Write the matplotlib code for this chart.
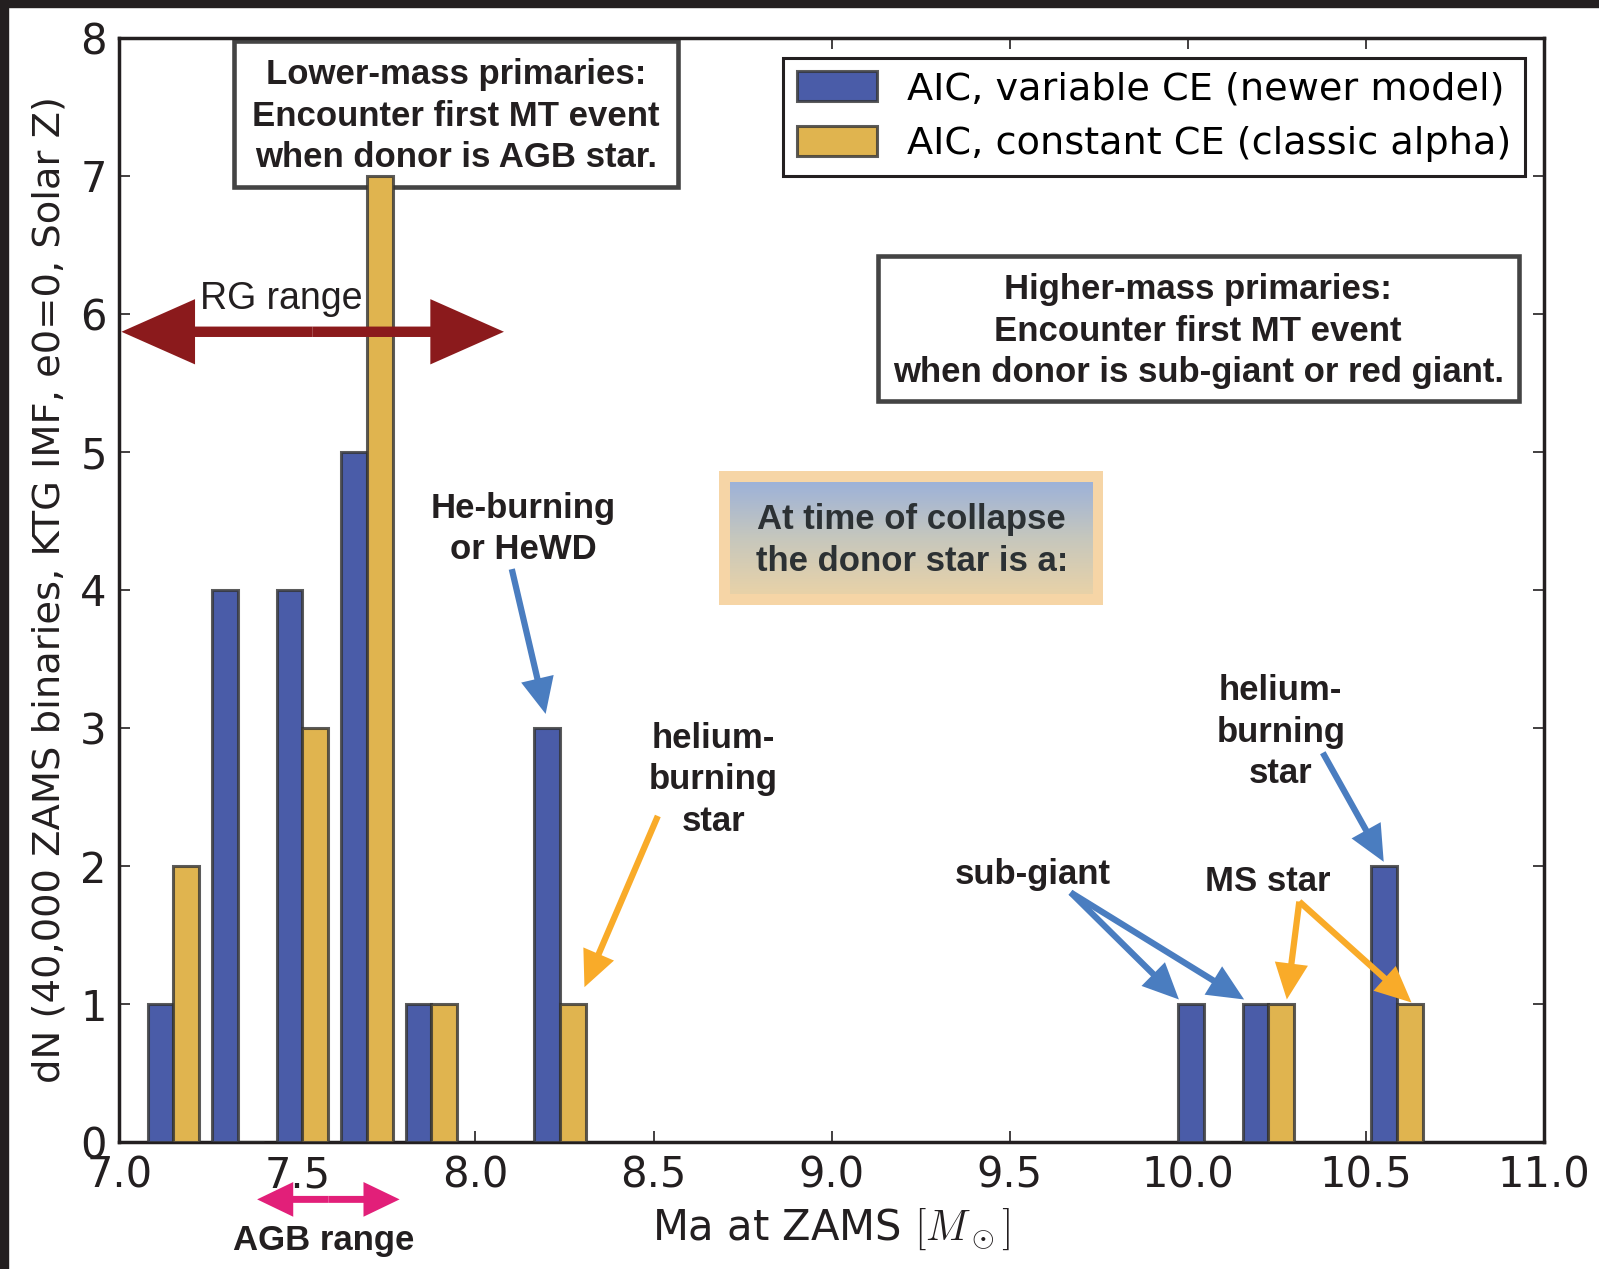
import matplotlib
matplotlib.use("Agg")
import matplotlib.pyplot as plt
import numpy as np
from matplotlib.patches import Rectangle, FancyArrowPatch
from matplotlib.colors import LinearSegmentedColormap

plt.rcParams["mathtext.fontset"] = "cm"

# non-empty mass bins (bin centres, Msun) and counts per bin
bin_centers = [7.152, 7.333, 7.514, 7.695, 7.876, 8.237, 10.045, 10.226, 10.587]
n_variable = [1, 4, 4, 5, 1, 3, 1, 1, 2]
n_constant = [2, 0, 3, 7, 1, 1, 0, 1, 1]
bin_width = 0.1808

labels = ["AIC, variable CE (newer model)", "AIC, constant CE (classic alpha)"]
x_ticks = [7.0, 7.5, 8.0, 8.5, 9.0, 9.5, 10.0, 10.5, 11.0]
y_ticks = [0, 1, 2, 3, 4, 5, 6, 7, 8]

ink = "#231f20"
blue = "#4a5ca8"
gold = "#e0b44f"
arrow_blue = "#4a7dc0"
arrow_orange = "#f9ab29"
sans = ["Liberation Sans", "DejaVu Sans"]
bold = dict(family=sans, weight="bold", color=ink)
LS = 1.33

fig = plt.figure(figsize=(15.99, 12.69), dpi=100)
ax = fig.add_axes([0.0746, 0.0999, 0.891, 0.8704])

x = np.array(bin_centers)
w = 0.4 * bin_width
edge = (0.2, 0.2, 0.2, 0.8)
ax.bar(x - w / 2, n_variable, width=w, color=blue, edgecolor=edge, linewidth=2.2,
       label=labels[0], zorder=3)
ax.bar(x + w / 2, n_constant, width=w, color=gold, edgecolor=edge, linewidth=2.2,
       label=labels[1], zorder=3)

ax.set_xlim(7, 11)
ax.set_ylim(0, 8)
ax.set_xticks(x_ticks)
ax.set_xticklabels([f"{t:.1f}" for t in x_ticks])
ax.set_yticks(y_ticks)
ax.tick_params(direction="in", length=8, width=1.2, top=True, right=True,
               labelsize=30, pad=9, colors=ink)
for s in ax.spines.values():
    s.set_linewidth(2.5)
    s.set_color(ink)

ax.set_xlabel(r"Ma at ZAMS $[M_\odot]$", fontsize=30, color=ink)
ax.set_ylabel("dN (40,000 ZAMS binaries, KTG IMF, e0=0, Solar Z)", fontsize=27.7, color=ink)
ax.xaxis.set_label_coords(0.5, -0.058)
ax.yaxis.set_label_coords(-0.036, 0.5)

leg = ax.legend(loc="upper right", bbox_to_anchor=(0.9866, 0.9817), borderaxespad=0,
                fontsize=27.5, fancybox=False, framealpha=1, edgecolor=ink,
                handlelength=2.1, handleheight=0.8, handletextpad=0.8,
                labelspacing=0.5, borderpad=0.35)
leg.get_frame().set_linewidth(2.2)
leg.set_zorder(6)

# text boxes
ax.add_patch(Rectangle((7.321, 6.920), 8.569 - 7.321, 7.976 - 6.920, facecolor="white",
                       edgecolor="#444444", linewidth=3.3, zorder=2))
ax.text(7.945, 7.43, "Lower-mass primaries:\nEncounter first MT event\nwhen donor is AGB star.",
        ha="center", va="center", fontsize=25, linespacing=LS, zorder=2.5, **bold)
ax.add_patch(Rectangle((9.130, 5.369), 10.931 - 9.130, 6.418 - 5.369, facecolor="white",
                       edgecolor="#444444", linewidth=3.3, zorder=2))
ax.text(10.029, 5.875, "Higher-mass primaries:\nEncounter first MT event\nwhen donor is sub-giant or red giant.",
        ha="center", va="center", fontsize=25, linespacing=LS, zorder=2.5, **bold)

# gradient box
ax.add_patch(Rectangle((8.684, 3.892), 9.763 - 8.684, 4.860 - 3.892, facecolor="#f6d5a6",
                       edgecolor="none", zorder=4))
grad_cmap = LinearSegmentedColormap.from_list("g", ["#e8d2a8", "#c6c7bd", "#9db2d9"])
ax.imshow(np.linspace(0, 1, 256).reshape(-1, 1)[::-1], cmap=grad_cmap, aspect="auto",
          extent=[8.715, 9.734, 3.973, 4.778], zorder=4.5)
ax.text(9.225, 4.36, "At time of collapse\nthe donor star is a:", ha="center", va="center",
        fontsize=25, linespacing=LS, zorder=5, family=sans, weight="bold", color="#2c3134")
ax.set_xlim(7, 11)
ax.set_ylim(0, 8)


def arrow(p0, p1, color, hl=26, hw=24, tw=4.5, clip=True):
    a = FancyArrowPatch(p0, p1, arrowstyle=f"simple,head_length={hl},head_width={hw},tail_width={tw}",
                        mutation_scale=1, color=color, lw=0, shrinkA=0, shrinkB=0, zorder=5)
    a.set_clip_on(clip)
    ax.add_patch(a)


# RG range double arrow
arrow((7.543, 5.87), (7.006, 5.87), "#8b1a1c", hl=53, hw=47, tw=7.5)
arrow((7.543, 5.87), (8.080, 5.87), "#8b1a1c", hl=53, hw=47, tw=7.5)
ax.text(7.455, 6.108, "RG range", ha="center", va="center", fontsize=27, zorder=6,
        family=sans, color=ink)

# AGB range double arrow below the axis
arrow((7.587, -0.414), (7.387, -0.414), "#e21f79", hl=26, hw=25, tw=5, clip=False)
arrow((7.587, -0.414), (7.787, -0.414), "#e21f79", hl=26, hw=25, tw=5, clip=False)
ax.text(7.573, -0.712, "AGB range", ha="center", va="center", fontsize=25, clip_on=False, **bold)

# donor-star labels
ax.text(8.134, 4.44, "He-burning\nor HeWD", ha="center", va="center", fontsize=25,
        linespacing=LS, **bold)
arrow((8.102, 4.151), (8.197, 3.102), arrow_blue)
ax.text(8.669, 2.625, "helium-\nburning\nstar", ha="center", va="center", fontsize=25,
        linespacing=LS, **bold)
arrow((8.512, 2.363), (8.306, 1.123), arrow_orange)
ax.text(9.565, 1.942, "sub-giant", ha="center", va="center", fontsize=25, **bold)
arrow((9.671, 1.809), (9.975, 1.034), arrow_blue)
arrow((9.671, 1.809), (10.158, 1.034), arrow_blue)
ax.text(10.224, 1.891, "MS star", ha="center", va="center", fontsize=25, **bold)
arrow((10.313, 1.743), (10.278, 1.034), arrow_orange)
arrow((10.313, 1.743), (10.628, 1.012), arrow_orange)
ax.text(10.261, 2.97, "helium-\nburning\nstar", ha="center", va="center", fontsize=25,
        linespacing=LS, **bold)
arrow((10.379, 2.821), (10.550, 2.031), arrow_blue)

# dark frame on top and left edges of the figure
fig.patches.append(Rectangle((0, 1 - 7 / 1269), 1, 7 / 1269, transform=fig.transFigure,
                             color=ink, zorder=10))
fig.patches.append(Rectangle((0, 0), 8 / 1599, 1, transform=fig.transFigure,
                             color=ink, zorder=10))

fig.savefig("out.png", dpi=100)
